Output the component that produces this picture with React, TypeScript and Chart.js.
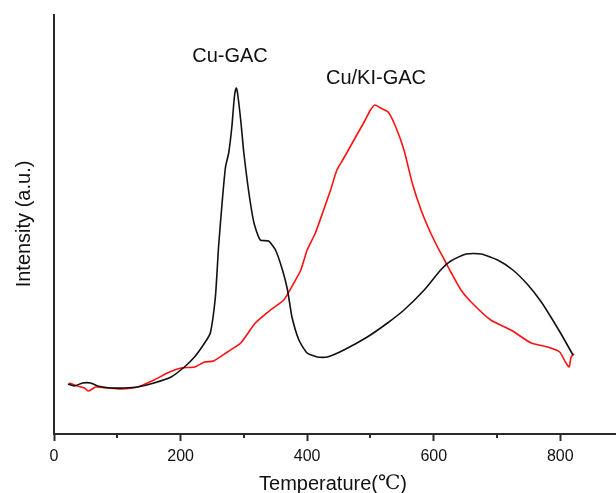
import React, { useEffect, useRef } from "react";
import { Chart, registerables } from "chart.js";

Chart.register(...registerables);

// Temperature (°C) and intensity (a.u.)
const cuTemp = [22, 32, 45, 58, 69, 90, 111, 132, 158, 185, 206, 222, 238, 247, 255, 260, 266, 271, 276, 281, 285, 288, 290, 295, 300, 308, 316, 326, 339, 350, 361, 369, 376, 387, 400, 416, 432, 458, 495, 527, 553, 585, 611, 627, 651, 675, 701, 725, 749, 770, 788, 804, 820];
const cuIntensity = [50, 48, 51, 51, 48, 46, 46, 47, 51, 57, 67, 77, 91, 101, 137, 187, 234, 267, 281, 307, 337, 346, 341, 314, 281, 241, 211, 194, 193, 184, 164, 144, 117, 94, 81, 77, 77, 84, 97, 111, 124, 144, 164, 173, 180, 180, 174, 164, 149, 132, 114, 97, 79];

const kiTemp = [24, 37, 48, 55, 66, 84, 106, 132, 158, 179, 201, 222, 238, 252, 274, 295, 318, 342, 363, 379, 390, 400, 413, 426, 437, 447, 458, 474, 490, 500, 507, 516, 528, 540, 553, 566, 580, 593, 606, 617, 627, 643, 659, 690, 722, 754, 780, 799, 808, 814, 817, 822];
const kiIntensity = [51, 48, 46, 43, 47, 46, 45, 47, 54, 61, 66, 67, 72, 73, 82, 91, 111, 124, 134, 151, 164, 184, 201, 224, 244, 264, 276, 294, 312, 324, 329, 326, 322, 307, 284, 251, 224, 204, 187, 174, 162, 144, 132, 114, 104, 91, 87, 82, 72, 67, 77, 80];

const xTicks = [0, 200, 400, 600, 800];
const xMinorTicks = [100, 300, 500, 700];
const seriesLabels = ["Cu-GAC", "Cu/KI-GAC"];

const AXIS_COLOR = "#2a2a2a";
const SANS = "'Liberation Sans', Arial, sans-serif";

const textPlugin = {
  id: "textPlugin",
  afterDraw(chart: any) {
    const ctx = chart.ctx;
    const xs = chart.scales.x;
    const area = chart.chartArea;
    ctx.save();
    // minor ticks
    ctx.strokeStyle = AXIS_COLOR;
    ctx.lineWidth = 2;
    xMinorTicks.forEach((v) => {
      const px = Math.round(xs.getPixelForValue(v));
      ctx.beginPath();
      ctx.moveTo(px, area.bottom);
      ctx.lineTo(px, area.bottom + 4);
      ctx.stroke();
    });
    ctx.fillStyle = "#111";
    ctx.textBaseline = "middle";
    ctx.textAlign = "center";
    ctx.font = `20px ${SANS}`;
    ctx.fillText(seriesLabels[0], 230, 56);
    ctx.fillText(seriesLabels[1], 376, 78);
    // y title
    ctx.save();
    ctx.translate(24, 224);
    ctx.rotate(-Math.PI / 2);
    ctx.font = `20px ${SANS}`;
    ctx.fillText("Intensity (a.u.)", 0, 0);
    ctx.restore();
    // x title with serif degree sign
    const p1 = "Temperature(";
    const p2 = "\u2103";
    const p3 = ")";
    ctx.textAlign = "left";
    ctx.font = `20px ${SANS}`;
    const w1 = ctx.measureText(p1).width;
    const w3 = ctx.measureText(p3).width;
    ctx.font = `20px 'Liberation Serif', 'DejaVu Serif', serif`;
    const w2 = ctx.measureText(p2).width;
    const total = w1 + w2 + w3;
    let x0 = 333 - total / 2;
    const yT = 484;
    ctx.font = `20px ${SANS}`;
    ctx.fillText(p1, x0, yT);
    ctx.font = `20px 'Liberation Serif', 'DejaVu Serif', serif`;
    ctx.fillText(p2, x0 + w1, yT);
    ctx.font = `20px ${SANS}`;
    ctx.fillText(p3, x0 + w1 + w2, yT);
    ctx.restore();
  },
};

export default function App() {
  const ref = useRef<HTMLCanvasElement>(null);
  useEffect(() => {
    if (!ref.current) return;
    const chart = new Chart(ref.current, {
      type: "line",
      data: {
        datasets: [
          {
            label: seriesLabels[0],
            data: cuTemp.map((t, i) => ({ x: t, y: cuIntensity[i] })),
            borderColor: "#111111",
            borderWidth: 1.6,
            pointRadius: 0,
            tension: 0.2,
          },
          {
            label: seriesLabels[1],
            data: kiTemp.map((t, i) => ({ x: t, y: kiIntensity[i] })),
            borderColor: "#ff1010",
            borderWidth: 1.6,
            pointRadius: 0,
            tension: 0.2,
          },
        ],
      },
      options: {
        animation: false,
        responsive: false,
        layout: { padding: { top: 15, left: 0, right: 0, bottom: 0 } },
        plugins: { legend: { display: false }, tooltip: { enabled: false } },
        scales: {
          x: {
            type: "linear",
            min: 0,
            max: 888,
            afterFit: (s: any) => {
              s.height = 59;
            },
            afterBuildTicks: (s: any) => {
              s.ticks = xTicks.map((v) => ({ value: v }));
            },
            ticks: {
              stepSize: 200,
              includeBounds: false,
              padding: 6,
              maxRotation: 0,
              color: "#111",
              font: { size: 16, family: SANS },
            },
            grid: {
              display: true,
              drawOnChartArea: false,
              drawTicks: true,
              tickLength: 7,
              tickColor: AXIS_COLOR,
              tickWidth: 2,
            },
            border: { display: true, color: AXIS_COLOR, width: 2 },
          },
          y: {
            type: "linear",
            min: 0,
            max: 419,
            afterFit: (s: any) => {
              s.width = 54;
            },
            ticks: { display: false },
            grid: { display: false, drawTicks: false },
            border: { display: true, color: AXIS_COLOR, width: 2 },
          },
        },
      },
      plugins: [textPlugin],
    });
    return () => chart.destroy();
  }, []);
  return (
    <div style={{ position: "fixed", left: 0, top: 0, width: 616, height: 493, background: "#fff" }}>
      <canvas ref={ref} width={616} height={493} />
    </div>
  );
}
